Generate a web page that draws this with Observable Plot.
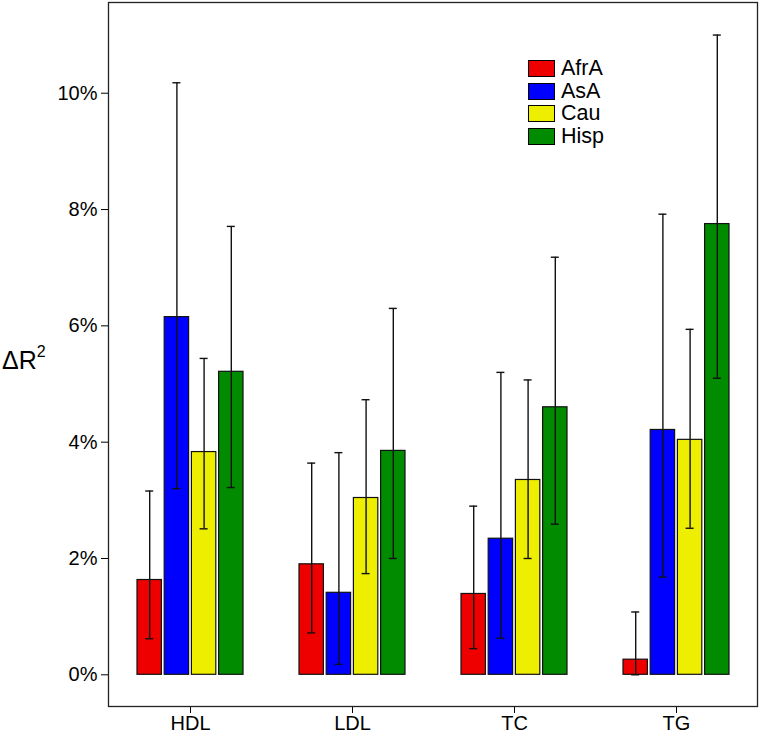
<!DOCTYPE html>
<html>
<head>
<meta charset="utf-8">
<script src="https://cdn.jsdelivr.net/npm/d3@7"></script>
<script src="https://cdn.jsdelivr.net/npm/@observablehq/plot@0.6"></script>
<style>
  body { margin: 0; background: #fff; }
  #wrap { position: relative; width: 762px; height: 737px; font-family: "Liberation Sans", Arial, sans-serif; }
  #ylab { position: absolute; left: 2px; top: 346px; font-size: 25px; color: #000; }
  #ylab sup { font-size: 16px; position: relative; top: -3px; }
  .leg { position: absolute; left: 528px; display: flex; align-items: center; font-size: 21.5px; color: #000; line-height: 1; }
  .key { width: 25px; height: 15px; border: 1.2px solid #000; margin-right: 6px; }
</style>
</head>
<body>
<div id="wrap"></div>
<script>
const lipids = ["HDL", "LDL", "TC", "TG"];
const groups = ["AfrA", "AsA", "Cau", "Hisp"];
const groupColors = ["#ee0000", "#0000ff", "#eeee00", "#008b00"];
const yTicks = [0, 2, 4, 6, 8, 10];

// ΔR² estimates (%) and error-bar bounds, per lipid (HDL, LDL, TC, TG)
const estAfrA  = [1.63, 1.90, 1.39, 0.26];
const lowAfrA  = [0.62, 0.72, 0.45, 0.00];
const highAfrA = [3.16, 3.64, 2.90, 1.08];
const estAsA   = [6.15, 1.41, 2.34, 4.21];
const lowAsA   = [3.20, 0.18, 0.63, 1.68];
const highAsA  = [10.18, 3.82, 5.20, 7.92];
const estCau   = [3.83, 3.04, 3.35, 4.04];
const lowCau   = [2.51, 1.74, 2.00, 2.52];
const highCau  = [5.44, 4.73, 5.07, 5.94];
const estHisp  = [5.21, 3.85, 4.60, 7.75];
const lowHisp  = [3.22, 2.00, 2.59, 5.10];
const highHisp = [7.71, 6.30, 7.18, 11.00];

const series = {
  AfrA: [estAfrA, lowAfrA, highAfrA],
  AsA: [estAsA, lowAsA, highAsA],
  Cau: [estCau, lowCau, highCau],
  Hisp: [estHisp, lowHisp, highHisp]
};
const data = groups.flatMap(g => lipids.map((l, j) => ({
  lipid: l, group: g, value: series[g][0][j], lo: series[g][1][j], hi: series[g][2][j]
})));

const slot = 27.2;     // dodge step between bars in a group (px)
const barInset = 68.8; // leaves ~24.5px bar in a 162px band
const capInset = 77;   // leaves ~8px cap

const marks = [];
groups.forEach((g, i) => {
  const d = data.filter(r => r.group === g);
  const dx = (i - 1.5) * slot;
  marks.push(Plot.barY(d, {x: "lipid", y: "value", fill: "group", stroke: "#111", strokeWidth: 1.2,
    insetLeft: barInset, insetRight: barInset, dx}));
});
groups.forEach((g, i) => {
  const d = data.filter(r => r.group === g);
  const dx = (i - 1.5) * slot;
  marks.push(Plot.ruleX(d, {x: "lipid", y1: "lo", y2: "hi", dx, stroke: "#111", strokeWidth: 1.4}));
  marks.push(Plot.tickY(d, {x: "lipid", y: "hi", dx, insetLeft: capInset, insetRight: capInset, stroke: "#111", strokeWidth: 1.4}));
  marks.push(Plot.tickY(d, {x: "lipid", y: "lo", dx, insetLeft: capInset, insetRight: capInset, stroke: "#111", strokeWidth: 1.4}));
});
marks.push(Plot.frame({stroke: "#222", strokeWidth: 1.3}));

const chart = Plot.plot({
  width: 762,
  height: 737,
  marginLeft: 108,
  marginRight: 5,
  marginTop: 2,
  marginBottom: 31,
  style: {fontFamily: "'Liberation Sans', Arial, sans-serif", fontSize: "20px", color: "#000", background: "#fff"},
  x: {domain: lipids, padding: 0, label: null, tickSize: 7, tickPadding: 2},
  y: {domain: [-0.545, 11.56], ticks: yTicks, tickFormat: d => d + "%", label: null, tickSize: 7, tickPadding: 4},
  color: {domain: groups, range: groupColors},
  marks
});

const wrap = document.getElementById("wrap");
wrap.appendChild(chart);

const ylab = document.createElement("div");
ylab.id = "ylab";
ylab.innerHTML = "ΔR<sup>2</sup>";
wrap.appendChild(ylab);

groups.forEach((g, i) => {
  const row = document.createElement("div");
  row.className = "leg";
  row.style.top = (58 + i * 22.5) + "px";
  const key = document.createElement("div");
  key.className = "key";
  key.style.background = groupColors[i];
  const lab = document.createElement("span");
  lab.textContent = g;
  row.appendChild(key);
  row.appendChild(lab);
  wrap.appendChild(row);
});
</script>
</body>
</html>
